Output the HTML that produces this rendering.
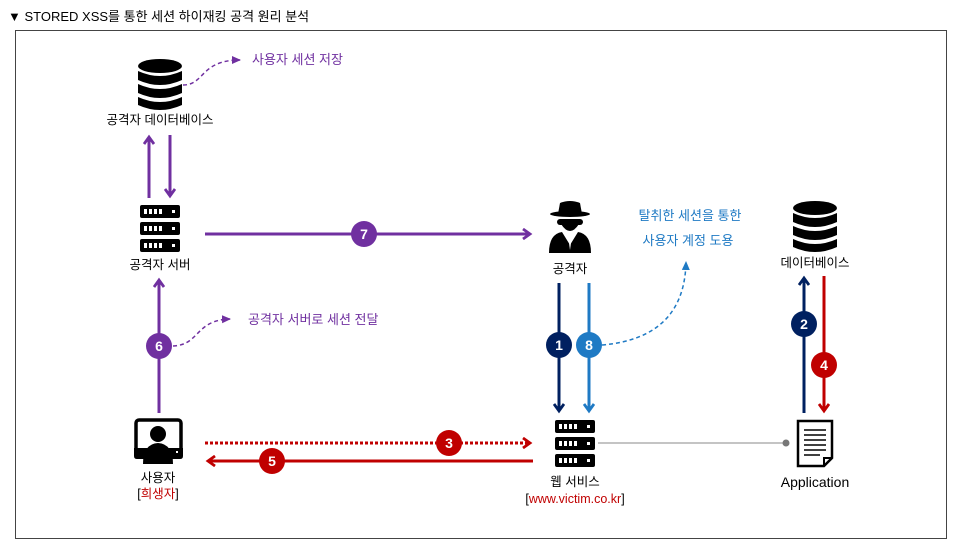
<!DOCTYPE html>
<html><head><meta charset="utf-8"><style>
body{margin:0;background:#fff;}
svg{display:block;font-family:"Liberation Sans","Noto Sans CJK KR",sans-serif;}
</style></head><body>
<svg width="960" height="549" viewBox="0 0 960 549" xmlns="http://www.w3.org/2000/svg">
<defs>
<marker id="ap" markerWidth="12" markerHeight="12" refX="8" refY="6" orient="auto" markerUnits="userSpaceOnUse"><path d="M1,1 L8,6 L1,11" fill="none" stroke="#7030a0" stroke-width="2.8"/></marker>
<marker id="an" markerWidth="12" markerHeight="12" refX="8" refY="6" orient="auto" markerUnits="userSpaceOnUse"><path d="M1,1 L8,6 L1,11" fill="none" stroke="#002060" stroke-width="2.8"/></marker>
<marker id="ab" markerWidth="12" markerHeight="12" refX="8" refY="6" orient="auto" markerUnits="userSpaceOnUse"><path d="M1,1 L8,6 L1,11" fill="none" stroke="#1f7ac4" stroke-width="2.8"/></marker>
<marker id="ar" markerWidth="12" markerHeight="12" refX="8" refY="6" orient="auto" markerUnits="userSpaceOnUse"><path d="M1,1 L8,6 L1,11" fill="none" stroke="#c00000" stroke-width="2.8"/></marker>
<marker id="tp" markerWidth="10" markerHeight="10" refX="8" refY="5" orient="auto" markerUnits="userSpaceOnUse"><path d="M0,1 L9,5 L0,9z" fill="#7030a0"/></marker>
<marker id="tb" markerWidth="10" markerHeight="10" refX="8" refY="5" orient="auto" markerUnits="userSpaceOnUse"><path d="M0,1 L9,5 L0,9z" fill="#1f7ac4"/></marker>
<g id="db"><ellipse cx="0" cy="-18" rx="22" ry="7" fill="#000"/><path d="M-22,-13 q22,10 44,0 v9 q-22,10 -44,0z M-22,0 q22,10 44,0 v9 q-22,10 -44,0z M-22,13 q22,10 44,0 v8 q-22,10 -44,0z" fill="#000"/></g>
<g id="srv"><g fill="#000"><rect x="-20" y="-23" width="40" height="13" rx="2"/><rect x="-20" y="-6" width="40" height="13" rx="2"/><rect x="-20" y="11" width="40" height="13" rx="2"/></g>
<g fill="#fff"><rect x="-16" y="-19" width="3" height="5"/><rect x="-11" y="-19" width="3" height="5"/><rect x="-6" y="-19" width="3" height="5"/><rect x="-1" y="-19" width="3" height="5"/><rect x="12" y="-18" width="3" height="3"/>
<rect x="-16" y="-2" width="3" height="5"/><rect x="-11" y="-2" width="3" height="5"/><rect x="-6" y="-2" width="3" height="5"/><rect x="-1" y="-2" width="3" height="5"/><rect x="12" y="-1" width="3" height="3"/>
<rect x="-16" y="15" width="3" height="5"/><rect x="-11" y="15" width="3" height="5"/><rect x="-6" y="15" width="3" height="5"/><rect x="-1" y="15" width="3" height="5"/><rect x="12" y="16" width="3" height="3"/></g></g>
</defs>
<text x="8" y="21" font-size="13" fill="#000">▼ STORED XSS를 통한 세션 하이재킹 공격 원리 분석</text>
<rect x="15.5" y="30.5" width="931" height="508" fill="none" stroke="#444" stroke-width="1"/>

<use href="#db" x="160" y="84"/>
<text x="160" y="124" font-size="12.5" text-anchor="middle">공격자 데이터베이스</text>
<path d="M183,85 C205,85 200,60 240,60" fill="none" stroke="#7030a0" stroke-width="1.5" stroke-dasharray="4,3" marker-end="url(#tp)"/>
<text x="252" y="64" font-size="13" fill="#7030a0">사용자 세션 저장</text>

<line x1="149" y1="198" x2="149" y2="137" stroke="#7030a0" stroke-width="3" marker-end="url(#ap)"/>
<line x1="170" y1="135" x2="170" y2="196" stroke="#7030a0" stroke-width="3" marker-end="url(#ap)"/>
<use href="#srv" x="160" y="228"/>
<text x="160" y="269" font-size="12.5" text-anchor="middle">공격자 서버</text>

<line x1="205" y1="234" x2="530" y2="234" stroke="#7030a0" stroke-width="3" marker-end="url(#ap)"/>
<circle cx="364" cy="234" r="13" fill="#7030a0"/><text x="364" y="239" font-size="14" font-weight="bold" fill="#fff" text-anchor="middle">7</text>

<g fill="#000">
<ellipse cx="570" cy="214" rx="20" ry="3"/><path d="M558,214 L560,203 Q570,199 580,203 L582,214z"/>
<rect x="557" y="219" width="26" height="6" rx="3"/>
<path d="M561,224 Q570,238 579,224z"/>
<path d="M549,253 Q549,234 562,232 L570,245 L578,232 Q591,234 591,253z"/>
</g>
<path d="M568,236 L570,250 L572,236z" fill="#fff"/>
<text x="570" y="273" font-size="12.5" text-anchor="middle">공격자</text>

<text x="690" y="220" font-size="13" fill="#1f7ac4" text-anchor="middle">탈취한 세션을 통한</text>
<text x="688" y="245" font-size="13" fill="#1f7ac4" text-anchor="middle">사용자 계정 도용</text>
<path d="M602,345 C660,340 685,310 686,262" fill="none" stroke="#1f7ac4" stroke-width="1.5" stroke-dasharray="4,3" marker-end="url(#tb)"/>

<line x1="559" y1="283" x2="559" y2="411" stroke="#002060" stroke-width="3" marker-end="url(#an)"/>
<line x1="589" y1="283" x2="589" y2="411" stroke="#1f7ac4" stroke-width="3" marker-end="url(#ab)"/>
<circle cx="559" cy="345" r="13" fill="#002060"/><text x="559" y="350" font-size="14" font-weight="bold" fill="#fff" text-anchor="middle">1</text>
<circle cx="589" cy="345" r="13" fill="#1f7ac4"/><text x="589" y="350" font-size="14" font-weight="bold" fill="#fff" text-anchor="middle">8</text>

<use href="#srv" x="575" y="443"/>
<text x="575" y="486" font-size="12.5" text-anchor="middle">웹 서비스</text>
<text x="575" y="503" font-size="12.5" text-anchor="middle">[<tspan fill="#c00000">www.victim.co.kr</tspan>]</text>

<line x1="598" y1="443" x2="786" y2="443" stroke="#888" stroke-width="1"/>
<circle cx="786" cy="443" r="3.5" fill="#777"/>

<use href="#db" x="815" y="226"/>
<text x="815" y="267" font-size="12.5" text-anchor="middle">데이터베이스</text>
<line x1="804" y1="413" x2="804" y2="278" stroke="#002060" stroke-width="3" marker-end="url(#an)"/>
<line x1="824" y1="276" x2="824" y2="411" stroke="#c00000" stroke-width="3" marker-end="url(#ar)"/>
<circle cx="804" cy="324" r="13" fill="#002060"/><text x="804" y="329" font-size="14" font-weight="bold" fill="#fff" text-anchor="middle">2</text>
<circle cx="824" cy="365" r="13" fill="#c00000"/><text x="824" y="370" font-size="14" font-weight="bold" fill="#fff" text-anchor="middle">4</text>

<path d="M798,421 H832 V458 L824,466 H798z" fill="#fff" stroke="#000" stroke-width="2.5"/>
<path d="M824,466 V458 H832" fill="none" stroke="#000" stroke-width="2"/>
<g stroke="#000" stroke-width="1.5"><line x1="804" y1="430" x2="826" y2="430"/><line x1="804" y1="435" x2="826" y2="435"/><line x1="804" y1="440" x2="826" y2="440"/><line x1="804" y1="445" x2="826" y2="445"/><line x1="804" y1="450" x2="826" y2="450"/><line x1="804" y1="455" x2="820" y2="455"/></g>
<text x="815" y="487" font-size="14" text-anchor="middle">Application</text>

<rect x="136" y="420" width="45" height="33" rx="3" fill="none" stroke="#000" stroke-width="3.5"/>
<path d="M134,448 H183 V456 Q183,459 180,459 H137 Q134,459 134,456z" fill="#000"/>
<circle cx="158" cy="434" r="8" fill="#000"/>
<path d="M143,464 Q143,444 158,443 Q173,444 173,464z" fill="#000"/>
<rect x="176" y="451" width="2" height="2" fill="#fff"/>
<text x="158" y="482" font-size="12.5" text-anchor="middle">사용자</text>
<text x="158" y="498" font-size="12.5" text-anchor="middle">[<tspan fill="#c00000">희생자</tspan>]</text>

<line x1="159" y1="413" x2="159" y2="280" stroke="#7030a0" stroke-width="3" marker-end="url(#ap)"/>
<circle cx="159" cy="346" r="13" fill="#7030a0"/><text x="159" y="351" font-size="14" font-weight="bold" fill="#fff" text-anchor="middle">6</text>
<path d="M173,346 C200,345 195,320 230,319" fill="none" stroke="#7030a0" stroke-width="1.5" stroke-dasharray="4,3" marker-end="url(#tp)"/>
<text x="248" y="324" font-size="13" fill="#7030a0">공격자 서버로 세션 전달</text>

<line x1="205" y1="443" x2="530" y2="443" stroke="#c00000" stroke-width="3" stroke-dasharray="3,2" marker-end="url(#ar)"/>
<line x1="533" y1="461" x2="208" y2="461" stroke="#c00000" stroke-width="3" marker-end="url(#ar)"/>
<circle cx="449" cy="443" r="13" fill="#c00000"/><text x="449" y="448" font-size="14" font-weight="bold" fill="#fff" text-anchor="middle">3</text>
<circle cx="272" cy="461" r="13" fill="#c00000"/><text x="272" y="466" font-size="14" font-weight="bold" fill="#fff" text-anchor="middle">5</text>
</svg>
</body></html>
